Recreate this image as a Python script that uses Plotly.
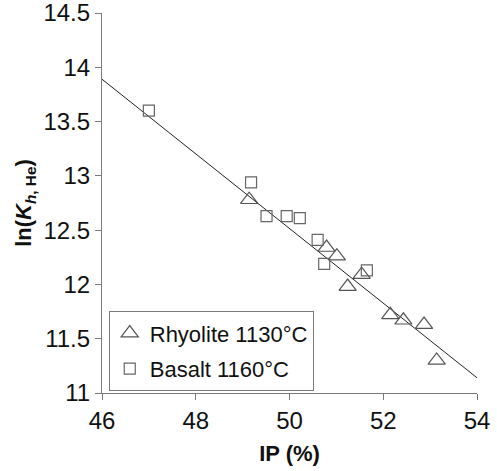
import plotly.graph_objects as go

# Rhyolite measurements (1130 °C)
rhy_ip = [49.14, 50.79, 51.01, 51.24, 51.54, 52.15, 52.43, 52.87, 53.14]
rhy_lnk = [12.78, 12.34, 12.26, 11.98, 12.09, 11.72, 11.67, 11.63, 11.30]

# Basalt measurements (1160 °C)
bas_ip = [47.00, 49.18, 49.51, 49.94, 50.22, 50.60, 50.74, 51.65]
bas_lnk = [13.60, 12.94, 12.63, 12.63, 12.61, 12.41, 12.19, 12.13]

# Linear fit through both data sets
fit_ip = [46, 54]
fit_lnk = [13.89, 11.14]

x_ticks = [46, 48, 50, 52, 54]
y_ticks = [11, 11.5, 12, 12.5, 13, 13.5, 14, 14.5]

FONT = "Arial, 'Liberation Sans', sans-serif"
GRAY = "#7a7a7a"
TXT = "#111111"

fig = go.Figure()

fig.add_trace(go.Scatter(
    x=fit_ip, y=fit_lnk, mode="lines",
    line=dict(color="#222222", width=1),
    showlegend=False, hoverinfo="skip",
))

fig.add_trace(go.Scatter(
    x=rhy_ip, y=rhy_lnk, mode="markers", name="Rhyolite 1130°C",
    legendgroup="rhy",
    marker=dict(symbol="triangle-up-open", size=15,
                color="#555555", line=dict(width=1.2, color="#555555")),
))

fig.add_trace(go.Scatter(
    x=bas_ip, y=bas_lnk, mode="markers", name="Basalt 1160°C",
    legendgroup="bas",
    marker=dict(symbol="square-open", size=11,
                color="#666666", line=dict(width=1.2, color="#666666")),
))

axis_common = dict(
    showgrid=False, zeroline=False, showline=True, automargin=False,
    linecolor=GRAY, linewidth=1.2,
    ticks="outside", ticklen=6, tickwidth=1.2, tickcolor=GRAY,
    tickfont=dict(family=FONT, size=24, color=TXT),
    ticklabeloverflow="allow",
)

fig.update_xaxes(
    range=[46, 54], tickvals=x_ticks,
    ticktext=[str(v) for v in x_ticks],
    title=dict(text="<b>IP (%)</b>", font=dict(family=FONT, size=22, color=TXT),
               standoff=12),
    **axis_common,
)
fig.update_yaxes(
    range=[11, 14.5], tickvals=y_ticks,
    ticktext=[f"{v:g}" for v in y_ticks],
    title=dict(text="<b>ln(<i>K</i><sub><i>h</i>, He</sub>)</b>",
               font=dict(family=FONT, size=22, color=TXT), standoff=5),
    **axis_common,
)

fig.update_layout(
    width=497, height=471,
    margin=dict(l=102, r=20, t=13, b=78),
    plot_bgcolor="white", paper_bgcolor="white",
    font=dict(family=FONT, color=TXT),
    legend=dict(
        x=0.018, y=0.215, xanchor="left", yanchor="top",
        bordercolor=GRAY, borderwidth=1, bgcolor="white",
        font=dict(family=FONT, size=22, color=TXT),
        itemwidth=30, tracegroupgap=4,
    ),
)

fig.write_html("out.html")
